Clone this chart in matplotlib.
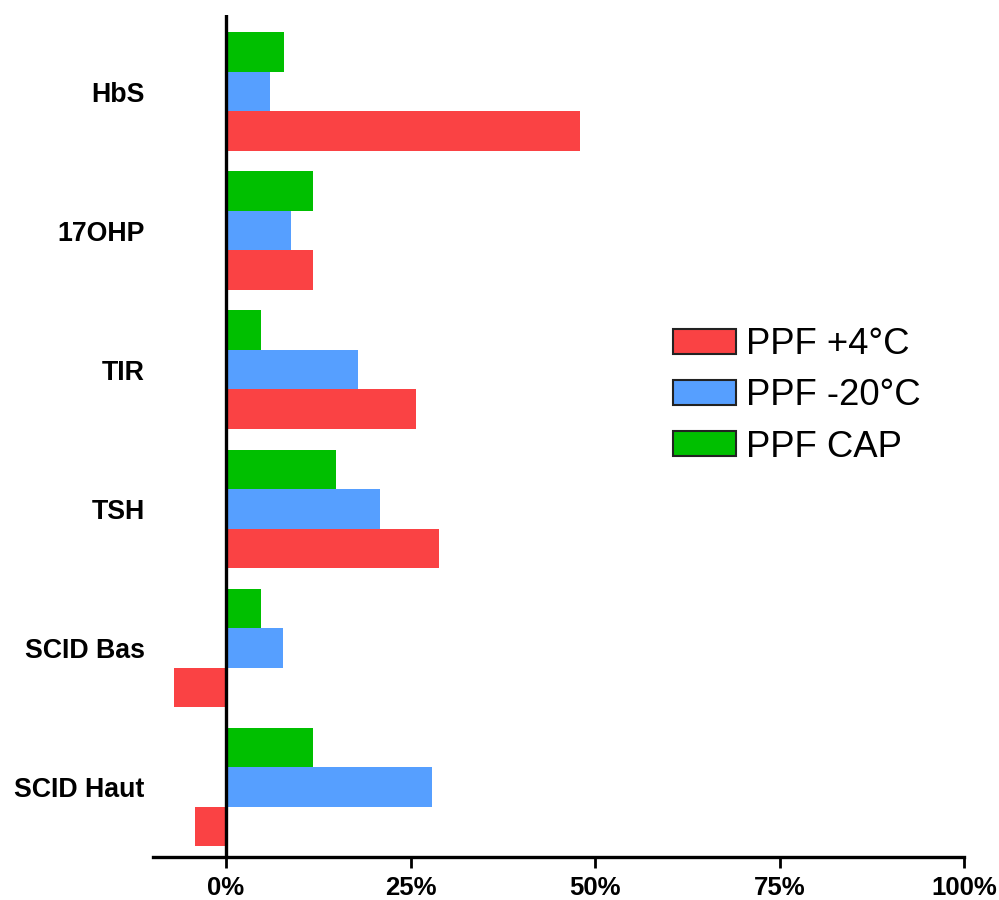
import matplotlib
matplotlib.use("Agg")
import matplotlib.pyplot as plt
from matplotlib.patches import Patch
import numpy as np

categories = ["HbS", "17OHP", "TIR", "TSH", "SCID Bas", "SCID Haut"]
ppf_4c = [47.9, 11.8, 25.8, 28.9, -7.1, -4.2]
ppf_m20c = [5.9, 8.8, 17.9, 20.9, 7.7, 27.9]
ppf_cap = [7.8, 11.8, 4.7, 14.9, 4.7, 11.8]
series_labels = ["PPF +4°C", "PPF -20°C", "PPF CAP"]
x_ticks = [0, 25, 50, 75, 100]
x_tick_labels = ["0%", "25%", "50%", "75%", "100%"]

colors = ["#FA4244", "#569FFF", "#00BF00"]

plt.rcParams['font.family'] = ['Liberation Sans', 'DejaVu Sans']

fig = plt.figure(figsize=(9.99, 9.0), dpi=100)
ax = fig.add_axes([153/999, 43/900, (964-153)/999, (857-15)/900])

n = len(categories)
centers = np.arange(n)[::-1].astype(float)
h = 0.284

ax.barh(centers - h, ppf_4c, height=h, color=colors[0], linewidth=0)
ax.barh(centers, ppf_m20c, height=h, color=colors[1], linewidth=0)
ax.barh(centers + h, ppf_cap, height=h, color=colors[2], linewidth=0)

ax.set_xlim(-9.9, 100)
ax.set_ylim(-0.503, 5.55)

ax.axvline(0, color='black', lw=2.4, zorder=5)
for s in ['top', 'right', 'left']:
    ax.spines[s].set_visible(False)
ax.spines['bottom'].set_linewidth(2.4)

ax.set_xticks(x_ticks)
ax.set_xticklabels(x_tick_labels, fontsize=18.5, fontweight='bold')
ax.tick_params(axis='x', direction='out', length=8, width=2, pad=6)
ax.set_yticks(centers)
ax.set_yticklabels(categories, fontsize=19.3, fontweight='bold')
ax.tick_params(axis='y', length=0, pad=6)

handles = [Patch(facecolor=c, edgecolor='#222222', linewidth=1.5) for c in colors]
fig.legend(handles, series_labels, loc='center left', bbox_to_anchor=(0.674, 1 - 396/900),
           frameon=False, fontsize=26.3, handlelength=1.72, handleheight=0.66,
           handletextpad=0.28, labelspacing=0.44, borderpad=0, borderaxespad=0)

fig.savefig("out.png", dpi=100)
